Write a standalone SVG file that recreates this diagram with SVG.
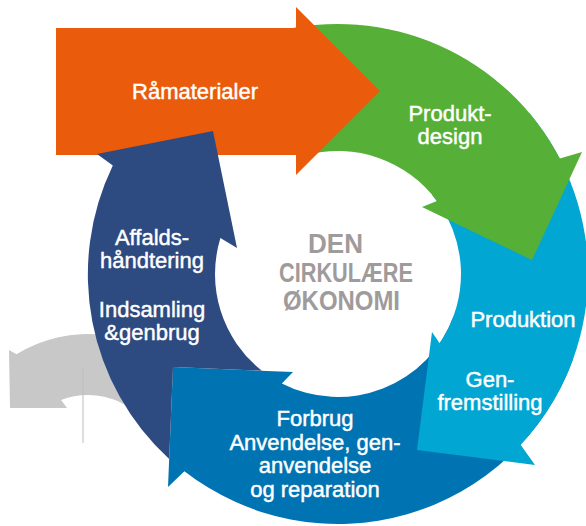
<svg xmlns="http://www.w3.org/2000/svg" width="586" height="526" viewBox="0 0 586 526">
<style>
.lbl{font-family:"Liberation Sans",Arial,sans-serif;font-size:22px;fill:#ffffff;stroke:#ffffff;stroke-width:0.45px;text-anchor:middle}
.ctr{font-family:"Liberation Sans",Arial,sans-serif;font-size:27px;font-weight:bold;fill:#a09b9b}
</style>
<rect width="586" height="526" fill="#ffffff"/>
<g id="connectors">
<path id="grey-arrow" d="M16.5,354.3 L9,350 L10,408 L67,408 L61.1,400 A75,75 0 0 1 129.9,407.8 L184.2,373.8 A136,136 0 0 0 16.5,354.3 Z" fill="#c8c8c8"/>
<line x1="83" y1="367" x2="83" y2="443" stroke="#bdbdbd" stroke-width="1"/>
</g>
<g id="forbrug">
<path d="M572.9,359.5 A250,250 0 0 1 184.4,471.2 L168,487 L173,367 L293,372 L281.8,383.4 A123,123 0 0 0 453.6,316.1 Z" fill="#0074b3"/>
<text class="lbl" x="315" y="426">Forbrug</text>
<text class="lbl" x="315" y="450">Anvendelse, gen-</text>
<text class="lbl" x="315" y="473">anvendelse</text>
<text class="lbl" x="315" y="497">og reparation</text>
</g>
<g id="produktion">
<path d="M529.5,113.3 A250,250 0 0 1 520.6,444.8 L535,465 L417,450 L432,332 L439.6,343.3 A123,123 0 0 0 432.2,194.9 Z" fill="#01a7d2"/>
<text class="lbl" x="523" y="327">Produktion</text>
<text class="lbl" x="490" y="387">Gen-</text>
<text class="lbl" x="490" y="410">fremstilling</text>
</g>
<g id="produktdesign">
<path d="M273.3,32.5 A250,250 0 0 1 559.8,158.6 L582,152 L532,260 L422,207 L436.9,200.9 A123,123 0 0 0 306.2,155.2 Z" fill="#56b037"/>
<text class="lbl" x="450" y="121">Produkt-</text>
<text class="lbl" x="450" y="144">design</text>
</g>
<g id="raamaterialer">
<polygon points="56,28 296,28 296,7 380,91 296,175 296,155 56,155" fill="#ea5b0c"/>
<text class="lbl" x="195" y="99">Råmaterialer</text>
</g>
<g id="affald">
<path d="M169.2,459 A250,250 0 0 1 112.8,165.6 L97,154 L213,131 L237,248 L220.4,238.1 A123,123 0 0 0 261.9,370.7 L173,367 Z" fill="#2e4b81"/>
<text class="lbl" x="152" y="245">Affalds-</text>
<text class="lbl" x="152" y="268">håndtering</text>
<text class="lbl" x="152" y="317">Indsamling</text>
<text class="lbl" x="152" y="340">&amp;genbrug</text>
</g>
<g id="center">
<text class="ctr" x="308" y="253" textLength="55" lengthAdjust="spacingAndGlyphs">DEN</text>
<text class="ctr" x="279" y="282" textLength="134" lengthAdjust="spacingAndGlyphs">CIRKULÆRE</text>
<text class="ctr" x="283" y="310" textLength="117" lengthAdjust="spacingAndGlyphs">ØKONOMI</text>
</g>
</svg>
